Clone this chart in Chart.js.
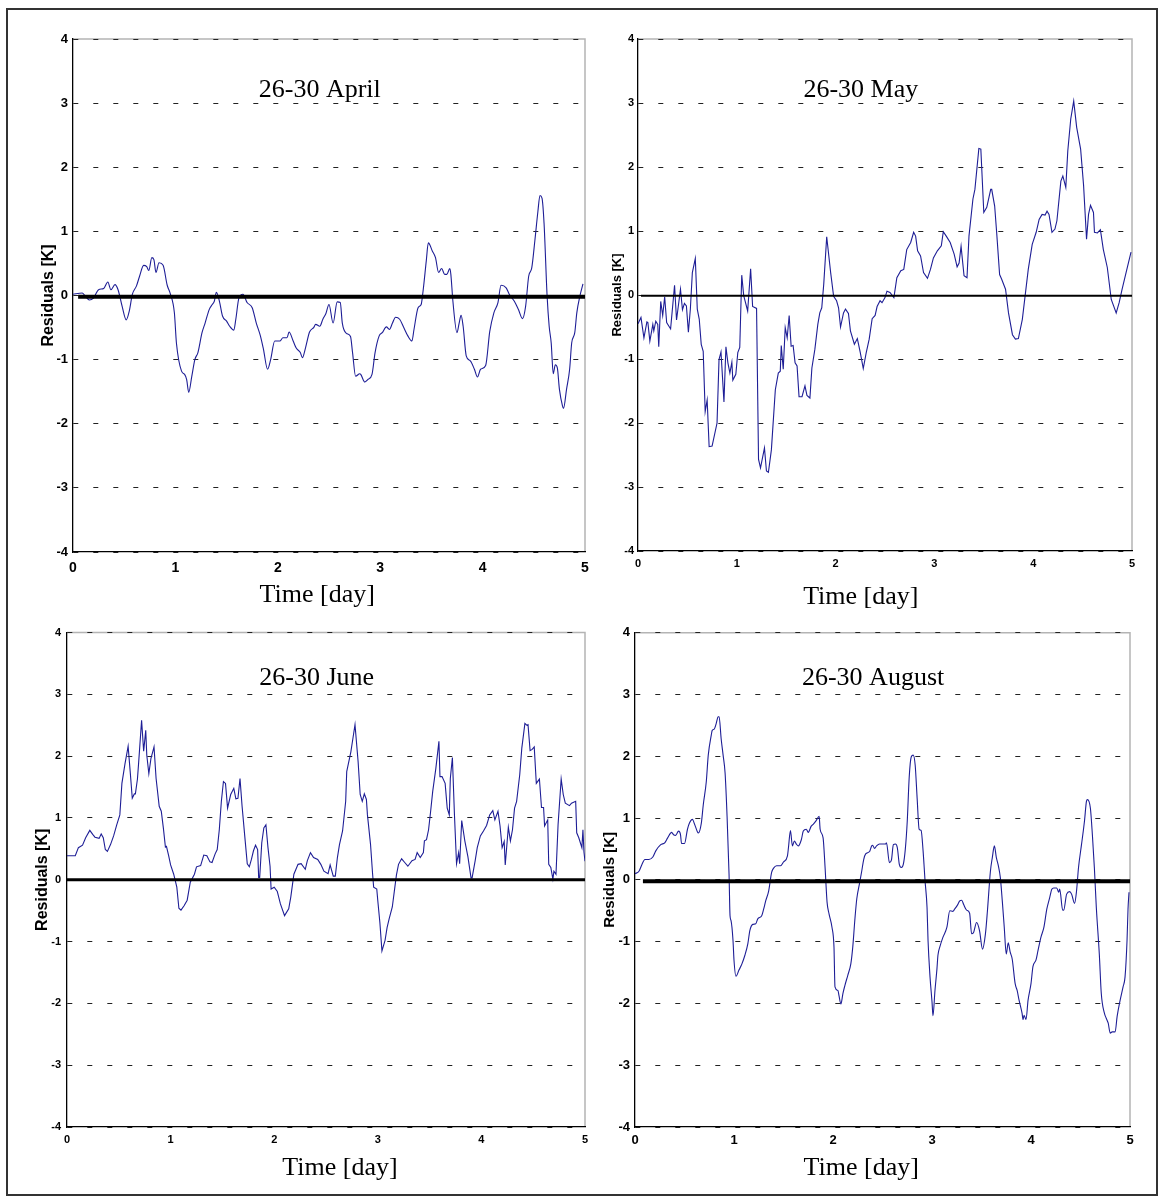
<!DOCTYPE html>
<html>
<head>
<meta charset="utf-8">
<script src="https://cdn.jsdelivr.net/npm/chart.js@4/dist/chart.umd.min.js"></script>
<style>
  html, body { margin: 0; padding: 0; background: #fff; }
  body { width: 1163px; height: 1201px; position: relative; overflow: hidden; }
  #frame { position: absolute; left: 6px; top: 8px; width: 1148px; height: 1184px; border: 2px solid #333; }
  canvas { position: absolute; }
</style>
</head>
<body>
<div id="frame"></div>
<canvas id="april" width="590" height="610" style="left:10px;top:10px"></canvas>
<canvas id="may" width="550" height="610" style="left:600px;top:10px"></canvas>
<canvas id="june" width="590" height="575" style="left:10px;top:620px"></canvas>
<canvas id="august" width="550" height="575" style="left:600px;top:620px"></canvas>
<script>
// [day, residual K]
const aprilSeries = [[0.00,0.02],[0.09,0.04],[0.12,-0.01],[0.16,-0.07],[0.20,-0.04],[0.25,0.09],[0.30,0.11],[0.34,0.21],[0.37,0.09],[0.41,0.17],[0.44,0.09],[0.48,-0.17],[0.52,-0.38],[0.55,-0.24],[0.58,0.02],[0.62,0.15],[0.65,0.30],[0.69,0.47],[0.72,0.45],[0.74,0.39],[0.77,0.59],[0.79,0.56],[0.81,0.36],[0.84,0.51],[0.88,0.47],[0.92,0.16],[0.95,0.03],[0.99,-0.27],[1.01,-0.74],[1.06,-1.18],[1.09,-1.23],[1.11,-1.31],[1.13,-1.51],[1.16,-1.26],[1.19,-1.00],[1.22,-0.89],[1.26,-0.58],[1.29,-0.43],[1.33,-0.22],[1.36,-0.14],[1.38,-0.09],[1.40,0.05],[1.43,-0.09],[1.46,-0.32],[1.50,-0.40],[1.53,-0.48],[1.57,-0.54],[1.59,-0.37],[1.62,-0.04],[1.66,0.02],[1.70,-0.11],[1.75,-0.19],[1.79,-0.43],[1.83,-0.63],[1.86,-0.84],[1.90,-1.15],[1.93,-1.00],[1.97,-0.71],[2.02,-0.71],[2.05,-0.66],[2.09,-0.66],[2.11,-0.57],[2.15,-0.71],[2.18,-0.82],[2.22,-0.89],[2.24,-0.97],[2.27,-0.82],[2.31,-0.57],[2.35,-0.50],[2.37,-0.45],[2.41,-0.48],[2.44,-0.37],[2.47,-0.28],[2.50,-0.14],[2.54,-0.43],[2.58,-0.10],[2.61,-0.11],[2.63,-0.43],[2.67,-0.59],[2.71,-0.64],[2.73,-0.89],[2.76,-1.26],[2.80,-1.22],[2.81,-1.23],[2.85,-1.35],[2.88,-1.31],[2.92,-1.23],[2.95,-0.89],[2.99,-0.63],[3.02,-0.58],[3.06,-0.49],[3.09,-0.53],[3.12,-0.43],[3.15,-0.34],[3.19,-0.37],[3.23,-0.50],[3.27,-0.63],[3.31,-0.71],[3.33,-0.53],[3.37,-0.19],[3.40,-0.14],[3.42,0.09],[3.45,0.54],[3.47,0.82],[3.51,0.69],[3.54,0.59],[3.57,0.36],[3.60,0.42],[3.63,0.33],[3.65,0.33],[3.68,0.42],[3.69,0.33],[3.71,-0.09],[3.75,-0.58],[3.77,-0.44],[3.79,-0.31],[3.81,-0.48],[3.84,-0.94],[3.88,-1.02],[3.92,-1.15],[3.95,-1.27],[3.98,-1.15],[4.03,-1.09],[4.07,-0.56],[4.11,-0.27],[4.15,-0.11],[4.18,0.16],[4.23,0.12],[4.26,0.02],[4.31,-0.09],[4.35,-0.22],[4.39,-0.36],[4.42,-0.17],[4.45,0.30],[4.48,0.43],[4.51,0.85],[4.54,1.31],[4.56,1.56],[4.58,1.52],[4.60,1.13],[4.63,-0.01],[4.65,-0.48],[4.67,-0.74],[4.69,-1.22],[4.71,-1.08],[4.73,-1.13],[4.75,-1.46],[4.78,-1.72],[4.79,-1.76],[4.82,-1.46],[4.85,-1.15],[4.87,-0.74],[4.90,-0.58],[4.92,-0.27],[4.95,-0.01],[4.98,0.18]]

const maySeries = [[0.00,-0.45],[0.03,-0.35],[0.06,-0.67],[0.09,-0.42],[0.10,-0.43],[0.12,-0.72],[0.15,-0.46],[0.16,-0.56],[0.18,-0.41],[0.20,-0.46],[0.21,-0.81],[0.23,-0.10],[0.25,-0.32],[0.27,-0.03],[0.29,-0.43],[0.33,-0.53],[0.37,0.15],[0.39,-0.39],[0.43,0.09],[0.45,-0.23],[0.47,-0.13],[0.49,-0.17],[0.51,-0.58],[0.53,-0.22],[0.55,0.35],[0.58,0.57],[0.60,-0.22],[0.62,-0.38],[0.64,-0.77],[0.66,-0.88],[0.68,-1.82],[0.70,-1.64],[0.72,-2.37],[0.75,-2.36],[0.80,-2.00],[0.82,-1.01],[0.84,-0.89],[0.87,-1.67],[0.89,-0.81],[0.91,-1.06],[0.93,-1.22],[0.95,-1.05],[0.96,-1.33],[0.99,-1.24],[1.01,-0.90],[1.03,-0.82],[1.05,0.31],[1.07,-0.01],[1.11,-0.25],[1.14,0.41],[1.16,-0.18],[1.20,-0.21],[1.22,-2.57],[1.24,-2.70],[1.28,-2.39],[1.30,-2.75],[1.32,-2.77],[1.35,-2.42],[1.39,-1.48],[1.42,-1.22],[1.44,-1.19],[1.45,-0.79],[1.47,-1.16],[1.49,-0.51],[1.51,-0.67],[1.53,-0.32],[1.55,-0.80],[1.57,-0.79],[1.59,-1.06],[1.61,-1.11],[1.63,-1.59],[1.66,-1.59],[1.69,-1.42],[1.71,-1.57],[1.74,-1.61],[1.76,-1.14],[1.79,-0.85],[1.82,-0.46],[1.84,-0.28],[1.86,-0.20],[1.88,0.17],[1.91,0.91],[1.95,0.35],[1.98,-0.02],[2.01,-0.09],[2.03,-0.20],[2.05,-0.50],[2.08,-0.28],[2.10,-0.22],[2.13,-0.29],[2.15,-0.56],[2.19,-0.77],[2.22,-0.68],[2.25,-0.90],[2.28,-1.15],[2.31,-0.90],[2.34,-0.69],[2.37,-0.37],[2.40,-0.32],[2.42,-0.18],[2.45,-0.09],[2.47,-0.12],[2.50,-0.04],[2.52,0.06],[2.55,0.04],[2.59,-0.04],[2.62,0.27],[2.66,0.38],[2.69,0.40],[2.72,0.71],[2.76,0.82],[2.79,0.98],[2.81,0.92],[2.83,0.69],[2.86,0.61],[2.89,0.35],[2.93,0.26],[2.96,0.40],[2.99,0.58],[3.03,0.69],[3.07,0.77],[3.09,0.99],[3.12,0.92],[3.16,0.82],[3.20,0.64],[3.23,0.44],[3.25,0.50],[3.27,0.76],[3.30,0.30],[3.33,0.27],[3.35,0.92],[3.39,1.50],[3.41,1.65],[3.45,2.29],[3.47,2.28],[3.50,1.29],[3.53,1.37],[3.57,1.65],[3.58,1.65],[3.61,1.39],[3.63,0.98],[3.66,0.32],[3.68,0.25],[3.72,0.09],[3.75,-0.28],[3.79,-0.62],[3.82,-0.69],[3.85,-0.68],[3.89,-0.38],[3.92,0.01],[3.95,0.40],[3.99,0.79],[4.03,0.98],[4.06,1.18],[4.09,1.26],[4.12,1.25],[4.14,1.31],[4.16,1.26],[4.19,0.98],[4.22,1.03],[4.24,1.16],[4.28,1.78],[4.30,1.86],[4.33,1.68],[4.35,2.25],[4.38,2.75],[4.41,3.03],[4.44,2.62],[4.48,2.28],[4.51,1.71],[4.54,0.87],[4.56,1.26],[4.58,1.40],[4.61,1.29],[4.62,0.98],[4.65,0.97],[4.68,1.02],[4.71,0.71],[4.75,0.43],[4.79,-0.07],[4.84,-0.28],[4.87,-0.12],[4.90,0.09],[4.94,0.35],[4.99,0.67]]

const juneSeries = [[0.00,0.39],[0.08,0.39],[0.11,0.52],[0.15,0.56],[0.18,0.68],[0.22,0.80],[0.25,0.73],[0.27,0.69],[0.31,0.67],[0.33,0.74],[0.35,0.68],[0.37,0.49],[0.39,0.46],[0.42,0.57],[0.45,0.71],[0.48,0.89],[0.51,1.05],[0.53,1.56],[0.56,1.88],[0.59,2.16],[0.61,1.75],[0.63,1.32],[0.65,1.39],[0.66,1.39],[0.68,1.63],[0.69,1.86],[0.72,2.58],[0.74,2.08],[0.76,2.42],[0.77,2.02],[0.79,1.72],[0.81,1.96],[0.84,2.15],[0.86,1.64],[0.89,1.19],[0.91,1.11],[0.93,0.84],[0.95,0.53],[0.96,0.54],[0.98,0.40],[1.00,0.24],[1.03,0.09],[1.06,-0.12],[1.08,-0.46],[1.10,-0.49],[1.13,-0.42],[1.16,-0.33],[1.19,-0.04],[1.23,0.09],[1.25,0.21],[1.29,0.23],[1.32,0.40],[1.35,0.39],[1.38,0.29],[1.40,0.28],[1.43,0.42],[1.45,0.49],[1.47,0.81],[1.49,1.27],[1.51,1.59],[1.53,1.56],[1.55,1.16],[1.58,1.38],[1.61,1.48],[1.63,1.31],[1.65,1.32],[1.67,1.64],[1.69,1.19],[1.72,0.63],[1.74,0.26],[1.76,0.21],[1.78,0.33],[1.80,0.47],[1.82,0.56],[1.84,0.49],[1.85,0.04],[1.86,0.04],[1.88,0.60],[1.90,0.84],[1.92,0.89],[1.94,0.52],[1.96,0.22],[1.97,-0.15],[2.00,-0.12],[2.03,-0.19],[2.06,-0.39],[2.10,-0.58],[2.14,-0.47],[2.16,-0.28],[2.19,0.09],[2.23,0.25],[2.26,0.26],[2.30,0.17],[2.32,0.31],[2.35,0.44],[2.38,0.36],[2.42,0.33],[2.45,0.25],[2.48,0.14],[2.52,0.10],[2.54,0.24],[2.57,0.06],[2.59,0.06],[2.61,0.36],[2.63,0.57],[2.66,0.79],[2.69,1.27],[2.70,1.75],[2.74,2.07],[2.76,2.29],[2.78,2.51],[2.81,1.91],[2.83,1.38],[2.85,1.27],[2.87,1.39],[2.89,1.30],[2.90,1.05],[2.93,0.57],[2.95,0.09],[2.96,-0.12],[2.99,-0.15],[3.00,-0.34],[3.02,-0.69],[3.04,-1.15],[3.07,-0.98],[3.09,-0.77],[3.11,-0.63],[3.14,-0.44],[3.16,-0.18],[3.18,0.08],[3.20,0.25],[3.23,0.34],[3.26,0.28],[3.29,0.22],[3.33,0.31],[3.36,0.33],[3.38,0.44],[3.41,0.36],[3.44,0.44],[3.45,0.63],[3.47,0.65],[3.49,0.81],[3.51,1.11],[3.53,1.43],[3.56,1.80],[3.59,2.24],[3.60,1.67],[3.62,1.67],[3.65,1.56],[3.67,1.16],[3.69,1.05],[3.70,1.64],[3.72,1.98],[3.74,1.05],[3.76,0.26],[3.78,0.44],[3.79,0.26],[3.81,0.96],[3.84,0.63],[3.87,0.37],[3.90,0.03],[3.91,0.03],[3.94,0.31],[3.96,0.52],[3.99,0.71],[4.02,0.79],[4.05,0.88],[4.08,1.05],[4.11,1.12],[4.13,0.97],[4.16,1.11],[4.18,0.87],[4.20,0.52],[4.22,0.62],[4.23,0.24],[4.26,0.85],[4.28,0.63],[4.30,0.81],[4.32,1.16],[4.34,1.27],[4.37,1.70],[4.39,2.13],[4.42,2.53],[4.44,2.50],[4.45,2.51],[4.47,2.09],[4.49,2.11],[4.51,2.15],[4.53,1.56],[4.56,1.63],[4.58,1.17],[4.60,1.17],[4.61,0.87],[4.64,0.97],[4.65,0.25],[4.67,0.20],[4.69,0.01],[4.70,0.14],[4.72,0.09],[4.74,0.89],[4.77,1.63],[4.79,1.38],[4.81,1.24],[4.85,1.20],[4.87,1.24],[4.91,1.27],[4.92,0.76],[4.94,0.68],[4.97,0.52],[4.98,0.81],[4.99,0.45],[5.00,0.30]]

const augustSeries = [[0.00,0.10],[0.04,0.14],[0.07,0.25],[0.10,0.33],[0.14,0.33],[0.18,0.37],[0.21,0.47],[0.26,0.57],[0.30,0.60],[0.33,0.68],[0.37,0.77],[0.39,0.73],[0.41,0.72],[0.44,0.79],[0.46,0.73],[0.47,0.59],[0.50,0.59],[0.53,0.82],[0.55,0.92],[0.58,0.98],[0.60,0.91],[0.63,0.78],[0.64,0.76],[0.67,0.92],[0.69,1.22],[0.72,1.59],[0.74,2.02],[0.77,2.34],[0.78,2.42],[0.80,2.44],[0.82,2.53],[0.84,2.64],[0.85,2.64],[0.87,2.29],[0.89,2.02],[0.91,1.73],[0.93,1.03],[0.95,0.09],[0.96,-0.58],[0.97,-0.66],[0.99,-0.98],[1.00,-1.30],[1.02,-1.56],[1.05,-1.46],[1.08,-1.36],[1.11,-1.22],[1.14,-1.03],[1.16,-0.82],[1.19,-0.72],[1.22,-0.71],[1.24,-0.63],[1.28,-0.58],[1.30,-0.47],[1.32,-0.34],[1.35,-0.18],[1.38,0.12],[1.40,0.19],[1.43,0.23],[1.47,0.23],[1.50,0.29],[1.54,0.39],[1.55,0.52],[1.57,0.80],[1.59,0.55],[1.61,0.63],[1.63,0.58],[1.65,0.55],[1.68,0.65],[1.70,0.79],[1.73,0.82],[1.75,0.77],[1.78,0.87],[1.80,0.90],[1.83,0.96],[1.86,1.03],[1.87,0.82],[1.90,0.68],[1.92,0.20],[1.94,-0.36],[1.96,-0.55],[1.99,-0.77],[2.01,-1.09],[2.02,-1.73],[2.05,-1.79],[2.06,-1.87],[2.08,-2.01],[2.10,-1.84],[2.12,-1.71],[2.15,-1.54],[2.18,-1.36],[2.20,-1.08],[2.22,-0.66],[2.24,-0.31],[2.27,-0.04],[2.29,0.14],[2.31,0.33],[2.33,0.42],[2.37,0.46],[2.39,0.55],[2.40,0.56],[2.42,0.51],[2.44,0.55],[2.47,0.58],[2.53,0.58],[2.54,0.60],[2.57,0.28],[2.59,0.32],[2.61,0.57],[2.63,0.58],[2.65,0.52],[2.67,0.25],[2.69,0.20],[2.71,0.25],[2.73,0.49],[2.75,0.95],[2.77,1.67],[2.79,1.99],[2.81,2.02],[2.83,1.86],[2.85,1.32],[2.87,0.82],[2.89,0.80],[2.91,0.47],[2.93,-0.02],[2.95,-0.45],[2.96,-0.98],[2.98,-1.57],[3.00,-1.97],[3.01,-2.20],[3.03,-1.79],[3.05,-1.44],[3.06,-1.22],[3.08,-1.08],[3.11,-0.93],[3.15,-0.77],[3.18,-0.50],[3.21,-0.51],[3.23,-0.47],[3.26,-0.40],[3.28,-0.34],[3.30,-0.33],[3.32,-0.40],[3.35,-0.49],[3.38,-0.54],[3.40,-0.87],[3.42,-0.85],[3.45,-0.69],[3.48,-0.82],[3.51,-1.12],[3.54,-0.87],[3.56,-0.50],[3.59,0.14],[3.61,0.37],[3.63,0.55],[3.65,0.36],[3.67,0.23],[3.69,0.04],[3.71,-0.34],[3.73,-0.77],[3.75,-1.20],[3.77,-1.02],[3.79,-1.17],[3.81,-1.28],[3.84,-1.68],[3.86,-1.79],[3.88,-1.95],[3.91,-2.16],[3.92,-2.26],[3.93,-2.19],[3.95,-2.26],[3.97,-1.95],[4.00,-1.68],[4.02,-1.40],[4.05,-1.30],[4.07,-1.15],[4.10,-0.93],[4.13,-0.77],[4.16,-0.47],[4.19,-0.28],[4.21,-0.15],[4.23,-0.13],[4.26,-0.13],[4.28,-0.20],[4.29,-0.15],[4.32,-0.49],[4.33,-0.49],[4.36,-0.23],[4.39,-0.19],[4.41,-0.23],[4.44,-0.38],[4.46,-0.18],[4.48,0.20],[4.51,0.57],[4.54,0.95],[4.56,1.27],[4.57,1.30],[4.60,1.16],[4.62,0.73],[4.64,0.20],[4.66,-0.45],[4.69,-1.20],[4.71,-1.84],[4.74,-2.15],[4.76,-2.24],[4.78,-2.32],[4.80,-2.48],[4.82,-2.46],[4.85,-2.46],[4.87,-2.21],[4.90,-1.95],[4.93,-1.73],[4.95,-1.57],[4.97,-0.98],[4.98,-0.47],[4.99,-0.20]]

// the thick black reference line at zero
const aprilZero = [[0.05,-0.02],[5,-0.02]]
const mayZero = [[0.03,-0.01],[5,-0.01]]
const juneZero = [[0,0],[5,0]]
const augustZero = [[0.08,-0.02],[5,-0.02]]

const dayMin = 0
const dayMax = 5
const residualMin = -4
const residualMax = 4
const xTitle = 'Time [day]'
const yTitle = 'Residuals [K]'

const sans = 'Arial, "Liberation Sans", Helvetica, sans-serif'
const serif = '"Times New Roman", "Liberation Serif", Times, serif'
const curveColor = '#1e1e96'

function toPoints (pairs) {
  return pairs.map(([x, y]) => ({ x, y }))
}

function residualPanel (canvasId, title, series, zero, look) {
  const texts = {
    id: 'panelTexts',
    beforeDraw (chart) {
      const { ctx, chartArea: a } = chart
      ctx.save()
      ctx.strokeStyle = '#b4b4b4'
      ctx.lineWidth = 1.5
      ctx.beginPath()
      ctx.moveTo(a.left, a.top)
      ctx.lineTo(a.right, a.top)
      ctx.lineTo(a.right, a.bottom)
      ctx.stroke()
      ctx.restore()
    },
    afterDraw (chart) {
      const { ctx, chartArea: a } = chart
      const w = a.right - a.left
      ctx.save()
      ctx.fillStyle = '#000'
      ctx.textAlign = 'center'
      ctx.textBaseline = 'alphabetic'
      ctx.font = '26px ' + serif
      ctx.fillText(title, a.left + look.titleAt * w, a.top + look.titleBase)
      ctx.fillText(xTitle, a.left + look.xTitleAt * w, a.bottom + look.xTitleBase)
      ctx.restore()
    }
  }

  return new Chart(document.getElementById(canvasId).getContext('2d'), {
    type: 'line',
    data: {
      datasets: [
        {
          data: toPoints(zero),
          borderColor: '#000',
          borderWidth: look.zeroWidth,
          pointRadius: 0,
          order: 0
        },
        {
          data: toPoints(series),
          borderColor: curveColor,
          borderWidth: 1.1,
          pointRadius: 0,
          cubicInterpolationMode: look.smooth ? 'monotone' : 'default',
          tension: 0,
          order: 1
        }
      ]
    },
    options: {
      responsive: false,
      animation: false,
      events: [],
      layout: { padding: { left: 0, top: look.padTop, right: look.padRight, bottom: 0 } },
      scales: {
        x: {
          type: 'linear',
          min: dayMin,
          max: dayMax,
          ticks: {
            stepSize: 1,
            padding: look.xTickPad,
            color: '#000',
            font: { family: sans, size: look.xTickSize, weight: 'bold' }
          },
          grid: { display: false, drawTicks: false },
          border: { color: '#000', width: 1.3 },
          afterFit: s => { s.height = look.xHeight }
        },
        y: {
          type: 'linear',
          min: residualMin,
          max: residualMax,
          ticks: {
            stepSize: 1,
            padding: look.yTickPad,
            color: '#000',
            font: { family: sans, size: look.yTickSize, weight: 'bold' }
          },
          grid: { color: '#222', lineWidth: 1, drawTicks: false },
          border: { color: '#000', width: 1.3, dash: [5, 15] },
          title: {
            display: true,
            text: yTitle,
            color: '#000',
            font: { family: sans, size: look.yTitleSize, weight: 'bold' },
            padding: { top: look.yTitlePad, bottom: 0 }
          },
          afterFit: s => { s.width = look.yWidth }
        }
      },
      plugins: {
        legend: { display: false },
        tooltip: { enabled: false }
      }
    },
    plugins: [texts]
  })
}

residualPanel('april', '26-30 April', aprilSeries, aprilZero, {
  smooth: true, zeroWidth: 4,
  padTop: 29, padRight: 15, yWidth: 63, xHeight: 68,
  yTickSize: 13, yTickPad: 5, xTickSize: 14, xTickPad: 8,
  yTitleSize: 16, yTitlePad: 29,
  titleAt: 0.482, titleBase: 58, xTitleAt: 0.477, xTitleBase: 50
})

residualPanel('may', '26-30 May', maySeries, mayZero, {
  smooth: false, zeroWidth: 2,
  padTop: 29, padRight: 18, yWidth: 38, xHeight: 69,
  yTickSize: 11, yTickPad: 4, xTickSize: 11, xTickPad: 6,
  yTitleSize: 13, yTitlePad: 10,
  titleAt: 0.451, titleBase: 58, xTitleAt: 0.451, xTitleBase: 53
})

residualPanel('june', '26-30 June', juneSeries, juneZero, {
  smooth: false, zeroWidth: 3,
  padTop: 10, padRight: 15, yWidth: 57, xHeight: 68,
  yTickSize: 11, yTickPad: 6, xTickSize: 11, xTickPad: 6,
  yTitleSize: 16, yTitlePad: 23,
  titleAt: 0.482, titleBase: 52, xTitleAt: 0.527, xTitleBase: 48
})

residualPanel('august', '26-30 August', augustSeries, augustZero, {
  smooth: true, zeroWidth: 4,
  padTop: 10, padRight: 20, yWidth: 35, xHeight: 68,
  yTickSize: 13, yTickPad: 5, xTickSize: 13, xTickPad: 6,
  yTitleSize: 15, yTitlePad: 1,
  titleAt: 0.481, titleBase: 52, xTitleAt: 0.457, xTitleBase: 48
})
</script>
</body>
</html>
